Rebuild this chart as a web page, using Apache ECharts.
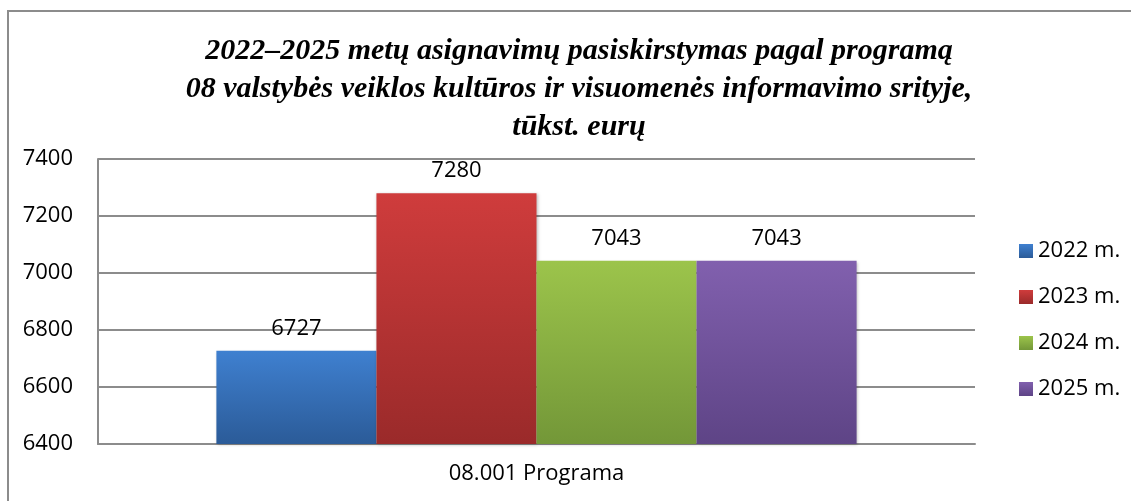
<!DOCTYPE html>
<html>
<head>
<meta charset="utf-8">
<script src="https://cdn.jsdelivr.net/npm/echarts@6/dist/echarts.min.js"></script>
<style>
  html, body { margin: 0; padding: 0; background: #fff; }
  #frame { position: absolute; left: 7px; top: 10px; width: 1124px; height: 491px;
           border-left: 2px solid #8c8c8c; border-top: 2px solid #8c8c8c; box-sizing: border-box; }
  #main { position: absolute; left: 0; top: 0; width: 1131px; height: 501px; }
</style>
</head>
<body>
<div id="frame"></div>
<div id="main"></div>
<script>
var categories = ['08.001 Programa'];
var seriesNames = ['2022 m.', '2023 m.', '2024 m.', '2025 m.'];
var values2022 = [6727];
var values2023 = [7280];
var values2024 = [7043];
var values2025 = [7043];
var yTicks = [6400, 6600, 6800, 7000, 7200, 7400];

var colors = [
    ['#3f80d0', '#2b5b98'],
    ['#cf3c3c', '#9a2a2a'],
    ['#9cc44b', '#739738'],
    ['#8160ae', '#5e4486']
];

var dom = document.getElementById('main');
var myChart = echarts.init(dom);
var font = '"Open Sans", sans-serif';

function grad(c) {
    return new echarts.graphic.LinearGradient(0, 0, 0, 1, [
        {offset: 0, color: c[0]},
        {offset: 1, color: c[1]}
    ]);
}

var allValues = [values2022, values2023, values2024, values2025];
var series = seriesNames.map(function (name, i) {
    return {
        name: name,
        type: 'bar',
        data: allValues[i],
        barGap: '0%',
        barCategoryGap: '27%',
        itemStyle: {
            color: grad(colors[i]),
            shadowColor: 'rgba(0,0,0,0.25)',
            shadowBlur: 3,
            shadowOffsetX: 1,
            shadowOffsetY: 1
        },
        label: {
            show: true,
            position: 'top',
            distance: 11,
            color: '#000',
            fontSize: 22,
            fontFamily: font
        }
    };
});

option = {
    animation: false,
    title: {
        text: '2022\u20132025 metų asignavimų pasiskirstymas pagal programą\n08 valstybės veiklos kultūros ir visuomenės informavimo srityje,\ntūkst. eurų',
        left: 574,
        top: 27,
        textAlign: 'center',
        textStyle: {
            fontFamily: '"Liberation Serif", "Times New Roman", serif',
            fontStyle: 'italic',
            fontWeight: 'bold',
            fontSize: 30,
            lineHeight: 38,
            color: '#000'
        }
    },
    legend: {
        orient: 'vertical',
        left: 1014,
        top: 235,
        itemWidth: 14,
        itemHeight: 14,
        itemGap: 24,
        icon: 'rect',
        textStyle: {
            fontFamily: font,
            fontSize: 22,
            color: '#000'
        },
        data: seriesNames
    },
    grid: {
        left: 98,
        right: 156,
        top: 159,
        bottom: 57
    },
    xAxis: {
        type: 'category',
        data: categories,
        axisLine: { lineStyle: { color: '#8c8c8c', width: 2 } },
        axisTick: { show: false },
        axisLabel: {
            margin: 19,
            color: '#000',
            fontSize: 22,
            fontFamily: font
        }
    },
    yAxis: {
        type: 'value',
        min: yTicks[0],
        max: yTicks[yTicks.length - 1],
        interval: 200,
        axisLine: { show: true, lineStyle: { color: '#8c8c8c', width: 2 } },
        axisTick: { show: false },
        splitLine: { lineStyle: { color: '#8c8c8c', width: 2 } },
        axisLabel: {
            margin: 25,
            color: '#000',
            fontSize: 22,
            fontFamily: font,
            formatter: function (v) { return String(v); }
        }
    },
    series: series
};

myChart.setOption(option, true);
</script>
</body>
</html>
